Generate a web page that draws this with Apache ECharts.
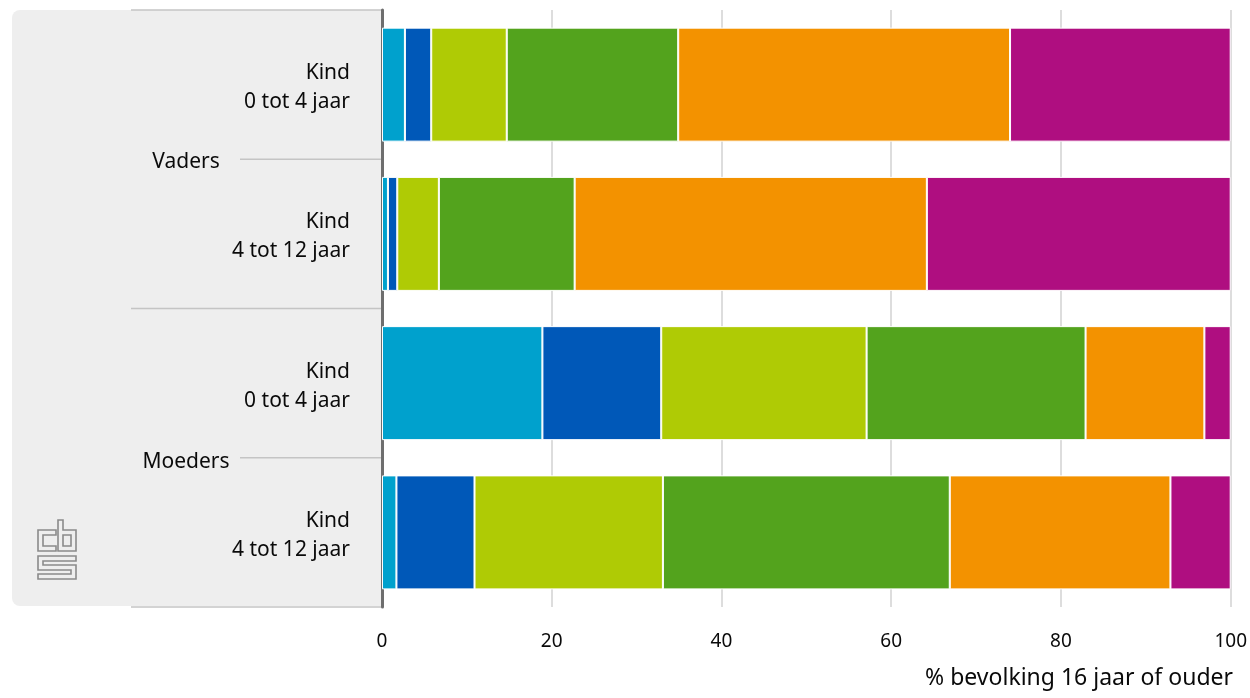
<!DOCTYPE html>
<html>
<head>
<meta charset="utf-8">
<script src="https://cdn.jsdelivr.net/npm/echarts@6/dist/echarts.min.js"></script>
<style>
html,body{margin:0;padding:0;background:#fff;}
#chart{width:1250px;height:698px;}
</style>
</head>
<body>
<div id="chart"></div>
<script>
// Categories (top to bottom)
var categories = ['Kind\n0 tot 4 jaar', 'Kind\n4 tot 12 jaar', 'Kind\n0 tot 4 jaar', 'Kind\n4 tot 12 jaar'];
var groups = ['Vaders', 'Moeders'];
var tickLabels = [0, 20, 40, 60, 80, 100];
var axisTitle = '% bevolking 16 jaar of ouder';

// Series values (percent), per category in order above
var seriesNames = ['Categorie 1', 'Categorie 2', 'Categorie 3', 'Categorie 4', 'Categorie 5', 'Categorie 6'];
var s1 = [2.7, 0.7, 18.9, 1.7];
var s2 = [3.1, 1.1, 14.0, 9.2];
var s3 = [8.9, 4.9, 24.2, 22.2];
var s4 = [20.2, 16.0, 25.8, 33.8];
var s5 = [39.1, 41.5, 14.0, 26.0];
var s6 = [26.0, 35.8, 3.1, 7.1];
var seriesValues = [s1, s2, s3, s4, s5, s6];
var colors = ['#00a1cd', '#0058b8', '#afcb05', '#53a31d', '#f39200', '#af0e80'];

var FONT = '"Noto Sans", sans-serif';
var TXT = '#0a0a0a';
var chart = echarts.init(document.getElementById('chart'));

var GL = 382, GT = 10, GB = 607, GR = 1231;
var band = (GB - GT) / categories.length;

var series = seriesValues.map(function (vals, i) {
  return {
    name: seriesNames[i],
    type: 'bar',
    stack: 'total',
    data: vals,
    barWidth: 114,
    itemStyle: { color: colors[i], borderColor: '#ffffff', borderWidth: 1 },
    emphasis: { disabled: true }
  };
});

var lineStyle = { stroke: '#c4c4c4', lineWidth: 1.5 };
var graphics = [
  { type: 'rect', z: -10, shape: { x: 12, y: GT, width: GL - 12, height: GB - GT - 1, r: [8, 0, 0, 8] }, style: { fill: '#eeeeee' } },
  { type: 'line', z: -5, shape: { x1: 131, y1: GT, x2: GL, y2: GT }, style: lineStyle },
  { type: 'line', z: -5, shape: { x1: 131, y1: GT + 2 * band, x2: GL, y2: GT + 2 * band }, style: lineStyle },
  { type: 'line', z: -5, shape: { x1: 131, y1: GB, x2: GL, y2: GB }, style: lineStyle },
  { type: 'line', z: -5, shape: { x1: 240, y1: GT + band, x2: GL, y2: GT + band }, style: lineStyle },
  { type: 'line', z: -5, shape: { x1: 240, y1: GT + 3 * band, x2: GL, y2: GT + 3 * band }, style: lineStyle },
  { type: 'text', style: { text: groups[0], x: 186, y: GT + band + 3, align: 'center', verticalAlign: 'middle', font: '21px ' + FONT, fill: TXT } },
  { type: 'text', style: { text: groups[1], x: 186, y: GT + 3 * band + 4, align: 'center', verticalAlign: 'middle', font: '21px ' + FONT, fill: TXT } },
  { type: 'text', style: { text: axisTitle, x: GR + 2, y: 678, align: 'right', verticalAlign: 'middle', font: '23px ' + FONT, fill: TXT } },
  // CBS logo (outline)
  { type: 'group', x: 38, y: 520, children: [
    { type: 'polygon', shape: { points: [[18,10],[0,10],[0,31],[18,31],[18,26],[5,26],[5,15],[18,15]] }, style: { fill: 'none', stroke: '#8a8a8a', lineWidth: 1.6 } },
    { type: 'polygon', shape: { points: [[20,0],[25,0],[25,10],[38,10],[38,31],[20,31]] }, style: { fill: 'none', stroke: '#8a8a8a', lineWidth: 1.6 } },
    { type: 'rect', shape: { x: 25, y: 15, width: 8, height: 11 }, style: { fill: 'none', stroke: '#8a8a8a', lineWidth: 1.6 } },
    { type: 'polygon', shape: { points: [[0,36],[38,36],[38,41],[5,41],[5,45],[38,45],[38,59],[0,59],[0,54],[33,54],[33,50],[0,50]] }, style: { fill: 'none', stroke: '#8a8a8a', lineWidth: 1.6 } }
  ]}
];

chart.setOption({
  animation: false,
  backgroundColor: '#ffffff',
  textStyle: { fontFamily: FONT },
  grid: { left: GL, right: 1250 - GR, top: GT, bottom: 698 - GB, containLabel: false },
  xAxis: {
    type: 'value',
    min: tickLabels[0],
    max: tickLabels[tickLabels.length - 1],
    interval: 20,
    axisLine: { show: false },
    axisTick: { show: false },
    splitLine: { show: true, lineStyle: { color: '#d2d2d2', width: 1.5 } },
    axisLabel: { color: TXT, fontSize: 19, margin: 25, fontFamily: FONT }
  },
  yAxis: {
    type: 'category',
    data: categories,
    inverse: true,
    axisLine: { show: true, lineStyle: { color: '#6e6e6e', width: 3 } },
    axisTick: { show: false },
    splitLine: { show: false },
    axisLabel: { show: false }
  },
  graphic: graphics,
  series: series
});

// Category labels placed at the axis positions of each category
var labelEls = categories.map(function (c, i) {
  var y = chart.convertToPixel({ yAxisIndex: 0 }, i);
  return { type: 'text', style: { text: c, x: 350, y: y + 3, align: 'right', verticalAlign: 'middle', font: '21px ' + FONT, lineHeight: 29, fill: TXT } };
});
chart.setOption({ graphic: graphics.concat(labelEls) });
</script>
</body>
</html>
